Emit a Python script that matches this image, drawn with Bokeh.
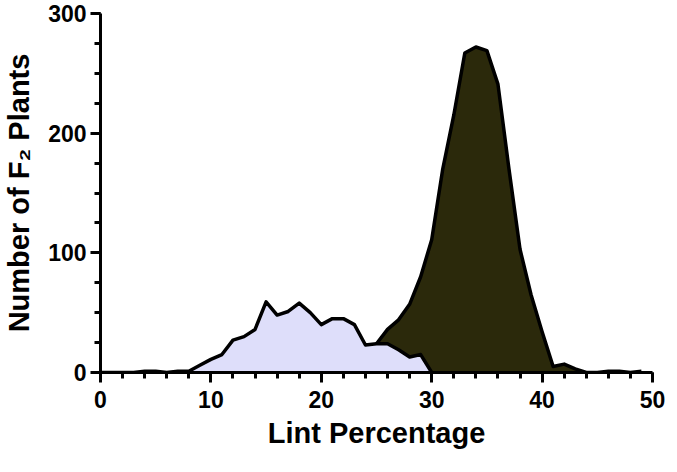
from bokeh.plotting import figure
from bokeh.models import Range1d, FixedTicker
from bokeh.embed import file_html
from bokeh.resources import INLINE

# Lint percentage classes and F2 plant counts
low_x = list(range(0, 31))
low_counts = [0, 0, 0, 0, 1, 1, 0, 1, 1, 6, 11, 15, 27, 30, 36, 59, 48, 51, 58, 50,
              40, 45, 45, 40, 23, 24, 24, 19, 13, 15, 0]

high_x = list(range(25, 50))
high_counts = [24, 36, 44, 57, 80, 111, 170, 215, 267, 272, 269, 241, 170, 103, 65,
               34, 5, 7, 3, 0, 0, 1, 1, 0, 1]

x_major = [0, 10, 20, 30, 40, 50]
x_minor = list(range(0, 51, 2))
y_major = [0, 100, 200, 300]
y_minor = list(range(0, 301, 25))

FONT = "Liberation Sans"

p = figure(width=667, height=456,
           x_range=Range1d(0, 50), y_range=Range1d(0, 300),
           output_backend="svg", toolbar_location=None,
           min_border_left=94, min_border_right=15,
           min_border_top=13, min_border_bottom=84)

p.outline_line_color = None
p.xgrid.grid_line_color = None
p.ygrid.grid_line_color = None
p.background_fill_color = "white"
p.border_fill_color = "white"

# high-lint class (drawn first, partially hidden)
p.varea(x=high_x, y1=0, y2=high_counts, fill_color="#2b290b")
p.line(high_x, high_counts, line_color="black", line_width=3.5, line_join="round")

# low-lint class on top
p.varea(x=low_x, y1=0, y2=low_counts, fill_color="#dedefa")
p.line(low_x, low_counts, line_color="black", line_width=3.5, line_join="round")

p.xaxis.ticker = FixedTicker(ticks=x_major, minor_ticks=x_minor)
p.yaxis.ticker = FixedTicker(ticks=y_major, minor_ticks=y_minor)

for ax in (p.xaxis[0], p.yaxis[0]):
    ax.axis_line_width = 3
    ax.axis_line_color = "black"
    ax.major_tick_line_width = 3
    ax.minor_tick_line_width = 3
    ax.major_tick_line_color = "black"
    ax.minor_tick_line_color = "black"
    ax.major_tick_in = 0
    ax.minor_tick_in = 0
    ax.major_tick_out = 10
    ax.minor_tick_out = 6
    ax.major_label_text_font = FONT
    ax.major_label_text_font_style = "bold"
    ax.major_label_text_font_size = "23px"
    ax.major_label_text_color = "black"
    ax.axis_label_text_font = FONT
    ax.axis_label_text_font_style = "bold"
    ax.axis_label_text_font_size = "29px"
    ax.axis_label_text_color = "black"

p.xaxis.axis_label = "Lint Percentage"
p.yaxis.axis_label = "Number of F\u2082 Plants"
p.xaxis.major_label_standoff = 8
p.yaxis.major_label_standoff = 4
p.xaxis.axis_label_standoff = 6
p.yaxis.axis_label_standoff = 10

open("out.html", "w").write(file_html(p, INLINE))
